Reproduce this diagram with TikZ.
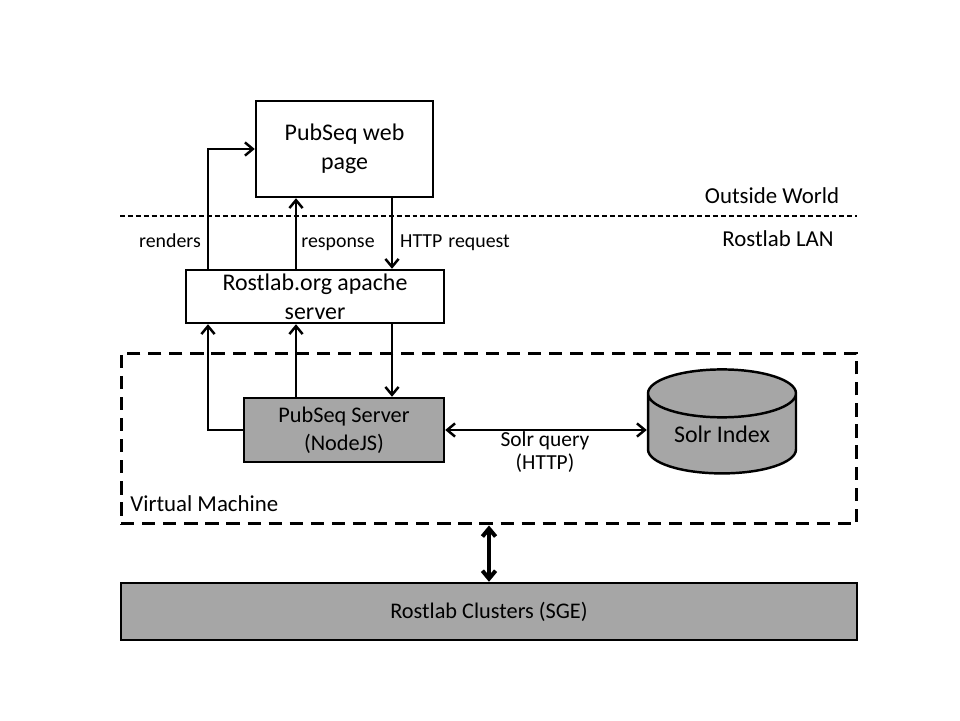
\documentclass[tikz,border=0pt]{standalone}
\usepackage{fontspec}
\setmainfont{Carlito}
\usetikzlibrary{positioning}
\usetikzlibrary{arrows.meta}
\usetikzlibrary{shapes.geometric}

\definecolor{boxGray}{RGB}{166,166,166}

\begin{document}
\begin{tikzpicture}[x=0.02cm, y=-0.02cm,
    whiteBox/.style={draw, line width=1.4pt, fill=white, align=center, inner sep=0pt,
      font=\fontsize{13.6}{16.4}\selectfont},
    grayBox/.style={draw, line width=1.4pt, fill=boxGray, align=center, inner sep=0pt,
      font=\fontsize{12.7}{16}\selectfont},
    vmBox/.style={draw, line width=1.7pt, dash pattern=on 7.5pt off 4.5pt},
    edgeText/.style={inner sep=0pt, text height=8pt, text depth=2.5pt, font=\fontsize{11.3}{13}\selectfont},
    sideText/.style={inner sep=0pt, font=\fontsize{13}{15}\selectfont},
    flow/.style={line width=1.4pt, -{Straight Barb[length=4.5pt, width=7.5pt]}},
    biFlow/.style={line width=1.4pt, {Straight Barb[length=4.5pt, width=7.5pt]}-{Straight Barb[length=4.5pt, width=7.5pt]}},
  ]
    \useasboundingbox (0,0) rectangle (960,720);

    % boxes
    \node[vmBox, minimum width=14.72cm, minimum height=3.42cm] (vm) at (489,438.5) {};
    \node[whiteBox, minimum width=3.54cm, minimum height=1.92cm] (web) at (344.5,149) {PubSeq web\\page};
    \node[whiteBox, minimum width=5.16cm, minimum height=1.06cm] (apache) at (315,296.5) {Rostlab.org apache\\server};
    \node[grayBox, minimum width=4cm, minimum height=1.28cm] (server) at (344,430) {PubSeq Server\\(NodeJS)};
    \node[grayBox, cylinder, shape border rotate=90, aspect=0.5, font=\fontsize{13.6}{16}\selectfont,
      minimum width=2.96cm, minimum height=2.08cm] (solr) at (722,434) {Solr Index};
    \node[grayBox, minimum width=14.72cm, minimum height=1.14cm] (clusters) at (489,611.5) {Rostlab Clusters (SGE)};
    \node[sideText, right] (vmName) at (130,504) {Virtual Machine};

    % outside world / LAN border
    \coordinate (lanWest) at (120,216);
    \coordinate (lanEast) at (857,216);
    \draw[line width=0.8pt, dash pattern=on 2.8pt off 1.7pt] (lanWest) -- (lanEast);
    \node[sideText] (outside) at (772,196) {Outside World};
    \node[sideText] (lan) at (778,239) {Rostlab LAN};

    % vertical lanes
    \coordinate (rendLane) at (208,0);
    \coordinate (respLane) at (296,0);
    \coordinate (reqLane) at (392,0);

    \draw[flow] (apache.north -| rendLane) |- (web.west);
    \draw[flow] (apache.north -| respLane) -- (web.south -| respLane);
    \draw[flow] (web.south -| reqLane) -- (apache.north -| reqLane);
    \node[edgeText] (rendText) at (170,243) {renders};
    \node[edgeText] (respText) at (338,243) {response};
    \node[edgeText] (reqText) at (455,243) {HTTP\hspace{0.3em}request};

    \draw[flow] (server.west) -| (apache.south -| rendLane);
    \draw[flow] (server.north -| respLane) -- (apache.south -| respLane);
    \draw[flow] (apache.south -| reqLane) -- (server.north -| reqLane);

    \draw[biFlow] (server.east) -- (server.east -| solr.west);
    \node[inner sep=0pt, align=center, font=\fontsize{12.2}{13.6}\selectfont] (queryText) at (545,452)
      {Solr query\\(HTTP)};

    \draw[biFlow, line width=2.3pt] (vm.south) -- (clusters.north);
  \end{tikzpicture}
\end{document}
